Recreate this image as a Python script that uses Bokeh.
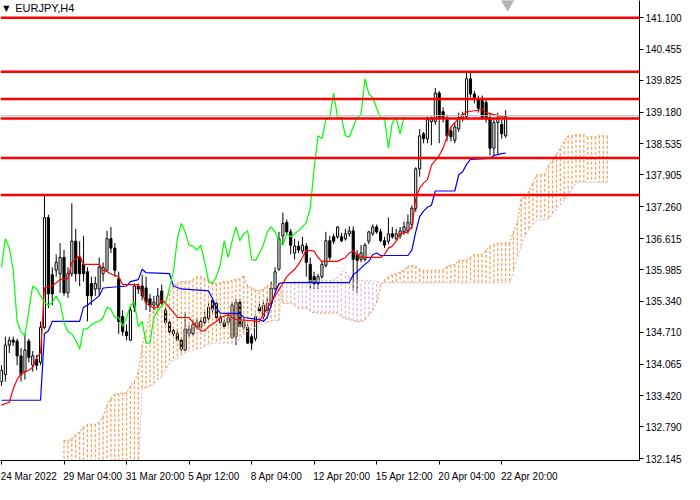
from bokeh.plotting import figure
from bokeh.models import (ColumnDataSource, Range1d, FixedTicker, PrintfTickFormatter,
                          Span, Label, LinearAxis)
from bokeh.embed import file_html
from bokeh.resources import INLINE

symbol = "EURJPY,H4"

# H4 candles, bar 0 = 24 Mar 2022
opens = [133.71, 133.85, 134.45, 134.55, 134.53, 134.23, 133.91, 134.53, 134.04, 134.16,
         134.10, 134.81, 137.04, 135.88, 135.97, 135.90, 136.23, 135.51, 135.90, 136.56,
         136.23, 136.09, 135.94, 135.70, 135.59, 135.59, 135.90, 135.97, 136.61, 136.42,
         135.80, 135.03, 134.72, 134.55, 135.22, 135.65, 135.65, 135.61, 135.39, 135.26,
         135.26, 135.55, 135.16, 134.91, 134.74, 134.68, 134.55, 134.35, 134.68, 134.68,
         134.81, 134.81, 134.91, 134.99, 135.36, 135.30, 134.91, 134.91, 134.91, 134.60,
         134.62, 135.32, 134.81, 134.81, 134.62, 134.58, 135.22, 135.03, 135.16, 135.30,
         135.59, 135.99, 136.67, 136.94, 136.75, 136.32, 136.46, 136.36, 136.46, 136.09,
         135.84, 135.70, 135.84, 136.07, 136.57, 136.65, 136.65, 136.65, 136.61, 136.71,
         136.77, 136.29, 136.19, 136.19, 136.56, 136.71, 136.85, 136.75, 136.57, 136.56,
         136.71, 136.61, 136.67, 136.75, 136.77, 136.90, 137.23, 138.03, 138.74, 138.64,
         138.99, 138.99, 139.57, 139.19, 139.03, 138.80, 138.61, 138.84, 139.07, 139.09,
         139.86, 139.55, 139.46, 139.42, 139.38, 139.07, 138.45, 138.97, 138.93, 138.70]
highs = [134.04, 134.62, 134.62, 134.62, 134.58, 134.39, 134.68, 134.58, 134.33, 134.25,
         134.93, 137.50, 137.10, 136.03, 136.29, 136.52, 136.38, 136.03, 137.33, 136.81,
         136.56, 136.67, 136.03, 135.84, 135.84, 136.23, 136.13, 136.77, 136.85, 136.52,
         135.94, 135.16, 134.87, 135.22, 135.70, 135.70, 135.88, 135.84, 135.49, 135.45,
         135.61, 135.68, 135.22, 134.95, 134.81, 134.78, 134.58, 135.12, 134.85, 134.97,
         134.99, 135.01, 135.12, 135.30, 135.41, 135.32, 135.07, 134.97, 135.07, 135.32,
         135.39, 135.39, 135.01, 134.87, 134.68, 135.07, 135.32, 135.32, 135.41, 135.74,
         136.03, 136.75, 137.14, 137.00, 136.81, 136.61, 136.56, 136.65, 136.52, 136.23,
         135.94, 135.90, 136.17, 136.75, 136.67, 136.71, 136.86, 136.73, 136.81, 136.86,
         136.86, 136.38, 136.48, 136.52, 136.77, 136.90, 136.90, 136.81, 136.65, 137.04,
         136.85, 136.81, 136.85, 136.96, 137.10, 137.29, 138.06, 138.84, 138.78, 139.09,
         139.09, 139.67, 139.61, 139.28, 139.13, 138.88, 138.97, 139.17, 139.19, 140.00,
         140.00, 139.61, 139.52, 139.52, 139.46, 139.17, 139.03, 139.17, 139.03, 139.22]
lows = [133.62, 133.71, 134.29, 134.43, 134.04, 133.71, 133.75, 134.10, 133.91, 133.94,
        134.04, 134.78, 135.20, 135.26, 135.84, 135.51, 135.45, 135.41, 135.84, 135.74,
        135.65, 135.74, 134.93, 135.26, 135.45, 135.45, 135.74, 135.94, 136.32, 135.84,
        134.68, 134.64, 134.55, 134.53, 135.12, 135.49, 135.36, 135.16, 135.12, 135.16,
        135.20, 135.22, 134.87, 134.64, 134.62, 134.53, 134.33, 134.33, 134.62, 134.64,
        134.76, 134.76, 134.87, 134.95, 135.10, 134.97, 134.85, 134.78, 134.85, 134.58,
        134.45, 134.81, 134.76, 134.47, 134.35, 134.53, 135.10, 134.95, 135.10, 135.22,
        135.55, 135.96, 136.48, 136.71, 136.29, 136.19, 136.32, 136.30, 135.84, 135.59,
        135.59, 135.59, 135.80, 136.03, 136.17, 136.50, 136.61, 136.54, 136.57, 136.65,
        135.55, 135.51, 136.13, 136.15, 136.50, 136.67, 136.71, 136.54, 136.42, 136.50,
        136.61, 136.57, 136.61, 136.69, 136.71, 136.81, 137.16, 137.87, 138.55, 138.55,
        138.51, 138.93, 138.55, 138.97, 138.59, 138.59, 138.55, 138.78, 138.99, 139.05,
        139.48, 139.36, 139.17, 139.03, 138.97, 138.30, 138.30, 138.32, 138.64, 138.66]
closes = [133.94, 134.45, 134.55, 134.51, 134.23, 133.85, 134.35, 134.20, 134.23, 134.04,
          134.81, 137.04, 135.49, 135.49, 136.13, 136.23, 135.51, 135.90, 136.56, 135.90,
          135.90, 135.90, 135.45, 135.45, 135.70, 136.03, 136.03, 136.61, 136.42, 135.97,
          134.93, 134.72, 134.64, 135.16, 135.65, 135.59, 135.45, 135.32, 135.26, 135.32,
          135.45, 135.30, 134.91, 134.72, 134.68, 134.55, 134.37, 134.78, 134.78, 134.87,
          134.91, 134.93, 135.01, 135.22, 135.18, 135.01, 135.01, 134.83, 135.01, 135.26,
          135.32, 134.83, 134.93, 134.49, 134.49, 135.03, 135.14, 135.26, 135.30, 135.61,
          135.94, 136.61, 136.92, 136.75, 136.48, 136.46, 136.38, 136.48, 136.13, 135.74,
          135.70, 135.84, 136.09, 136.57, 136.23, 136.56, 136.85, 136.57, 136.71, 136.77,
          136.19, 136.17, 136.32, 136.48, 136.75, 136.85, 136.75, 136.57, 136.48, 136.71,
          136.65, 136.71, 136.77, 136.85, 136.94, 137.23, 138.03, 138.70, 138.64, 139.03,
          139.07, 139.57, 139.07, 139.07, 138.70, 138.68, 138.88, 139.07, 139.13, 139.86,
          139.55, 139.48, 139.26, 139.07, 139.07, 138.45, 138.97, 139.07, 138.74, 139.09]

# Ichimoku lines (read at their corner points)
tenkan_bars = [0, 2, 3, 4, 5, 7, 8, 9, 10, 11, 13, 15, 17, 18, 20, 21, 25, 26, 27, 29,
               30, 31, 35, 36, 37, 39, 40, 41, 42, 44, 45, 48, 49, 50, 51, 52, 53, 55, 56, 58,
               59, 60, 66, 67, 68, 70, 72, 73, 75, 76, 77, 78, 80, 81, 82, 86, 88, 89, 90, 91,
               92, 97, 98, 99, 100, 101, 102, 104, 105, 106, 107, 108, 109, 110, 111, 112, 113, 114, 115, 116,
               117, 119, 122, 123, 124, 126, 127, 128, 129]
tenkan_vals = [133.23, 133.29, 133.56, 133.75, 133.87, 133.94, 134.00, 134.20, 134.29, 135.61,
               135.65, 135.78, 135.80, 136.13, 136.27, 136.09, 136.09, 135.97, 135.94, 135.86,
               135.84, 135.68, 135.68, 135.51, 135.30, 135.20, 135.22, 135.36, 135.30, 135.12,
               135.01, 135.01, 134.91, 134.83, 134.74, 134.74, 134.83, 134.93, 135.01, 135.07,
               135.01, 134.97, 134.93, 135.07, 135.20, 135.45, 135.70, 135.84, 135.99, 136.09,
               136.23, 136.38, 136.36, 136.23, 136.15, 136.15, 136.23, 136.32, 136.36, 136.29,
               136.23, 136.23, 136.29, 136.42, 136.46, 136.56, 136.71, 136.75, 136.85, 137.42,
               137.64, 137.74, 137.81, 138.10, 138.20, 138.30, 138.45, 138.68, 138.88, 138.97,
               139.05, 139.19, 139.22, 139.24, 139.17, 139.13, 139.11, 139.09, 139.07]
kijun_bars = [0, 10, 11, 12, 13, 20, 21, 22, 25, 26, 32, 33, 35, 36, 37, 43, 44, 46, 53, 54,
              55, 56, 61, 62, 66, 67, 68, 69, 70, 71, 72, 89, 90, 91, 93, 94, 95, 96, 97, 104,
              105, 106, 107, 108, 109, 110, 111, 116, 117, 118, 119, 120, 125, 126, 127, 128, 129]
kijun_vals = [133.33, 133.33, 134.68, 134.74, 134.93, 134.93, 135.22, 135.26, 135.45, 135.61,
              135.65, 135.74, 135.78, 135.99, 135.92, 135.90, 135.65, 135.59, 135.55, 135.39,
              135.20, 135.10, 135.09, 135.01, 134.97, 134.93, 135.01, 135.26, 135.51, 135.70,
              135.72, 135.72, 135.88, 135.94, 136.09, 136.15, 136.29, 136.32, 136.27, 136.27,
              136.38, 136.75, 137.06, 137.17, 137.25, 137.29, 137.58, 137.58, 137.91, 137.97,
              138.12, 138.22, 138.24, 138.30, 138.32, 138.34, 138.35]
chikou_shift = 26

# cloud, one value per bar from bar 16 to bar 155
cloud_first = 16
span_a = [132.51, 132.51, 132.55, 132.63, 132.69, 132.78, 132.84, 132.84, 132.84, 132.88,
          133.00, 133.23, 133.36, 133.46, 133.46, 133.48, 133.48, 133.62, 133.71, 133.91,
          134.45, 134.74, 135.07, 135.14, 135.20, 135.26, 135.36, 135.51, 135.65, 135.70,
          135.74, 135.74, 135.74, 135.78, 135.84, 135.84, 135.80, 135.76, 135.72, 135.70,
          135.72, 135.74, 135.74, 135.76, 135.78, 135.80, 135.86, 135.65, 135.61, 135.57,
          135.55, 135.59, 135.65, 135.67, 135.68, 135.70, 135.30, 135.30, 135.30, 135.26,
          135.20, 135.20, 135.20, 135.14, 135.10, 135.10, 135.10, 135.10, 135.10, 135.10,
          135.10, 135.03, 134.99, 134.97, 134.95, 134.93, 134.93, 134.97, 135.07, 135.16,
          135.32, 135.65, 135.76, 135.84, 135.88, 135.90, 135.94, 135.97, 136.05, 136.07,
          136.05, 135.99, 135.96, 135.96, 135.96, 135.97, 135.97, 135.97, 136.05, 136.07,
          136.09, 136.17, 136.17, 136.17, 136.23, 136.29, 136.29, 136.29, 136.38, 136.46,
          136.50, 136.52, 136.52, 136.52, 136.52, 136.75, 136.94, 137.42, 137.46, 137.58,
          137.74, 137.91, 137.91, 137.93, 138.10, 138.20, 138.32, 138.45, 138.59, 138.70,
          138.70, 138.72, 138.72, 138.72, 138.68, 138.68, 138.68, 138.70, 138.70, 138.70]
span_b = [131.87, 131.87, 131.87, 131.87, 131.87, 131.87, 131.87, 131.87, 131.87, 131.87,
          131.87, 131.87, 131.87, 131.87, 131.87, 131.87, 131.87, 131.87, 131.87, 131.87,
          133.58, 133.58, 133.62, 133.67, 133.75, 133.81, 133.94, 134.10, 134.14, 134.16,
          134.23, 134.29, 134.33, 134.35, 134.37, 134.39, 134.43, 134.47, 134.49, 134.49,
          134.49, 134.49, 134.49, 134.49, 134.53, 134.58, 134.68, 134.74, 134.78, 134.81,
          134.85, 134.89, 134.91, 134.93, 134.95, 134.95, 135.72, 135.72, 135.72, 135.74,
          135.74, 135.74, 135.74, 135.76, 135.76, 135.76, 135.76, 135.76, 135.76, 135.76,
          135.84, 135.94, 135.94, 135.84, 135.76, 135.76, 135.76, 135.76, 135.76, 135.76,
          135.74, 135.70, 135.72, 135.72, 135.72, 135.72, 135.72, 135.72, 135.72, 135.72,
          135.72, 135.72, 135.72, 135.72, 135.72, 135.72, 135.72, 135.72, 135.72, 135.72,
          135.72, 135.72, 135.72, 135.72, 135.72, 135.72, 135.72, 135.72, 135.72, 135.72,
          135.72, 135.72, 135.72, 135.72, 135.72, 135.94, 136.23, 136.46, 136.67, 136.81,
          136.90, 137.00, 137.00, 137.00, 137.02, 137.12, 137.23, 137.31, 137.39, 137.48,
          137.62, 137.74, 137.76, 137.76, 137.76, 137.76, 137.76, 137.76, 137.76, 137.76]

levels = [141.100, 140.000, 139.450, 139.050, 138.250, 137.500]
bid_price = 139.11
price_ticks = [141.100, 140.455, 139.825, 139.180, 138.535, 137.905, 137.260, 136.615,
               135.985, 135.340, 134.710, 134.065, 133.420, 132.790, 132.145]
time_ticks = [0, 16, 32, 48, 64, 80, 96, 112, 128]
time_labels = ["24 Mar 2022", "29 Mar 04:00", "31 Mar 20:00", "5 Apr 12:00", "8 Apr 04:00",
               "12 Apr 20:00", "15 Apr 12:00", "20 Apr 04:00", "22 Apr 20:00"]

FONT = "Liberation Sans"
X0, X1 = -0.25, 163.25
Y0, Y1 = 132.106, 141.449
W, H = 684, 484
RIGHT, BOTTOM = 44, 15

p = figure(width=W, height=H, x_range=Range1d(X0, X1), y_range=Range1d(Y0, Y1),
           y_axis_location="right", output_backend="svg", toolbar_location=None,
           min_border_left=0, min_border_top=0, min_border_right=RIGHT, min_border_bottom=BOTTOM)
p.grid.visible = False
p.outline_line_color = None
p.background_fill_color = "white"
p.border_fill_color = "white"

p.yaxis.ticker = FixedTicker(ticks=price_ticks)
p.yaxis.formatter = PrintfTickFormatter(format="%.3f")
p.yaxis.major_tick_out = 4
p.yaxis.major_tick_in = 0
p.yaxis.minor_tick_line_color = None
p.yaxis.major_label_standoff = 2
p.yaxis.major_label_text_font = FONT
p.yaxis.major_label_text_font_size = "10px"
p.yaxis.major_label_text_color = "black"
p.yaxis.axis_line_color = "black"

# time axis: tick marks on one axis, left-aligned labels on a second one
tick_axis = p.xaxis[0]
tick_axis.ticker = FixedTicker(ticks=time_ticks)
tick_axis.major_tick_out = 4
tick_axis.major_tick_in = 0
tick_axis.minor_tick_line_color = None
tick_axis.major_label_text_font_size = "1px"
tick_axis.major_label_text_color = None
tick_axis.major_label_standoff = 0
tick_axis.axis_line_color = "black"

CHAR_W = {"M": 0.833, "A": 0.667, "a": 0.556, "p": 0.556, "r": 0.333, " ": 0.278, ":": 0.278}
px_per_bar = (W - RIGHT) / (X1 - X0)
label_pos = [round(tb + sum(CHAR_W.get(ch, 0.556) for ch in tl) * 10 / 2 / px_per_bar - 0.2, 3)
             for tb, tl in zip(time_ticks, time_labels)]
label_axis = LinearAxis(ticker=FixedTicker(ticks=label_pos),
                        major_label_overrides=dict(zip(label_pos, time_labels)),
                        major_tick_line_color=None, minor_tick_line_color=None,
                        axis_line_color=None, major_label_standoff=0,
                        major_label_text_font=FONT, major_label_text_font_size="10px",
                        major_label_text_color="black")
p.add_layout(label_axis, "below")

# candles
bars = list(range(len(closes)))
src = ColumnDataSource(dict(
    x=bars, high=highs, low=lows,
    top=[max(o, c) for o, c in zip(opens, closes)],
    bottom=[min(o, c) for o, c in zip(opens, closes)],
    fill=["white" if c >= o else "black" for o, c in zip(opens, closes)],
))
p.segment(x0="x", y0="low", x1="x", y1="high", source=src, line_color="black", line_width=1)
p.vbar(x="x", width=0.55, top="top", bottom="bottom", source=src,
       fill_color="fill", line_color="black", line_width=1)

# kumo: dotted histogram between span A and span B
cloud_bars = list(range(cloud_first, cloud_first + len(span_a)))
cloud_cols = ["#F4A460" if a >= b else "#D8BFD8" for a, b in zip(span_a, span_b)]
p.segment(x0=cloud_bars, y0=span_a, x1=cloud_bars, y1=span_b,
          line_color=cloud_cols, line_dash="3 2", line_width=1.3)
p.line(cloud_bars, span_a, line_color="#F4A460", line_dash="2 2", line_width=1.2)
p.line(cloud_bars, span_b, line_color="#D8BFD8", line_dash="2 2", line_width=1.2)

p.line(kijun_bars, kijun_vals, line_color="#0000FF", line_width=1.2)
p.line(tenkan_bars, tenkan_vals, line_color="#FF0000", line_width=1.2)
p.line(bars[:len(closes) - chikou_shift], closes[chikou_shift:], line_color="#00FF00", line_width=1.2)

# chart-shift marker at the top, just after the last bar
p.scatter(x=[len(closes) - 0.5], y=[Y1 - 0.07], marker="inverted_triangle", size=12,
          fill_color="#B4B4B4", line_color="#B4B4B4")

# bid line and its label (mostly hidden by the red labels)
p.add_layout(Span(location=bid_price, dimension="width", line_color="#C0C0C0", line_width=1))
p.add_layout(Label(x=X1 + 0.5, y=bid_price, text=f"{bid_price:.3f}", text_font=FONT,
                   text_font_size="10px", text_color="black", text_align="left",
                   text_baseline="middle", background_fill_color="white",
                   border_line_color="black", padding=1))

for lv in levels:
    p.add_layout(Span(location=lv, dimension="width", line_color="#FF0000", line_width=2.5))
for lv in levels:
    p.add_layout(Label(x=X1 + 0.5, y=lv, text=f"{lv:.3f}", text_font=FONT,
                       text_font_size="10px", text_color="white", text_align="left",
                       text_baseline="middle", background_fill_color="#FF0000", padding=1))

p.add_layout(Label(x=1.25, y=141.29, text="\u25bc", text_font="DejaVu Sans",
                   text_font_size="8px", text_color="black", text_align="center",
                   text_baseline="middle"))
p.add_layout(Label(x=3.5, y=141.29, text=symbol, text_font=FONT, text_font_size="11px",
                   text_color="black", text_align="left", text_baseline="middle"))

open("out.html", "w").write(file_html(p, INLINE))
